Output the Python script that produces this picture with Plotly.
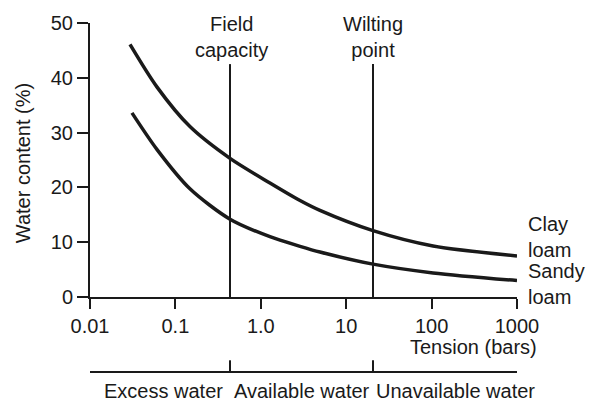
import plotly.graph_objects as go
import math

# ---- data ----
clay_tension = [0.0294, 0.061, 0.148, 0.436, 1.28, 2.88, 4.93, 20.6, 104, 1000]
clay_loam = [46.1, 38.3, 31.1, 25.3, 20.8, 17.6, 15.8, 12.1, 9.3, 7.5]
sandy_tension = [0.031, 0.061, 0.148, 0.436, 1.28, 2.88, 4.93, 20.6, 104, 1000]
sandy_loam = [33.6, 26.9, 19.75, 14.2, 11.0, 9.25, 8.2, 6.0, 4.4, 3.0]

field_capacity = 0.436
wilting_point = 20.6
marker_top = 42.5

x_tickvals = [0.01, 0.1, 1, 10, 100, 1000]
x_ticktext = ["0.01", "0.1", "1.0", "10", "100", "1000"]
y_tickvals = [0, 10, 20, 30, 40, 50]

zones = ["Excess water", "Available water", "Unavailable water"]

FONT = "Liberation Sans, Arial, sans-serif"
INK = "#1a1a1a"

fig = go.Figure()
fig.add_trace(go.Scatter(x=clay_tension, y=clay_loam, mode="lines",
                         line=dict(color=INK, width=3.5, shape="spline", smoothing=0.8),
                         showlegend=False, hoverinfo="skip"))
fig.add_trace(go.Scatter(x=sandy_tension, y=sandy_loam, mode="lines",
                         line=dict(color=INK, width=3.5, shape="spline", smoothing=0.8),
                         showlegend=False, hoverinfo="skip"))
for xv in (field_capacity, wilting_point):
    fig.add_trace(go.Scatter(x=[xv, xv], y=[0, marker_top], mode="lines",
                             line=dict(color=INK, width=2),
                             showlegend=False, hoverinfo="skip"))

# second (zone) axis below the main one
line_y = -0.274
tick_y = -0.231
shapes = [dict(type="line", xref="x", yref="paper", x0=x_tickvals[0], x1=x_tickvals[-1],
               y0=line_y, y1=line_y, line=dict(color=INK, width=2))]
for xv in (field_capacity, wilting_point):
    shapes.append(dict(type="line", xref="x", yref="paper", x0=xv, x1=xv,
                       y0=line_y, y1=tick_y, line=dict(color=INK, width=2)))

lf = math.log10(field_capacity)
lw = math.log10(wilting_point)
zone_x = [(-2 + lf) / 2 + 0.04, (lf + lw) / 2, (lw + 3) / 2 + 0.12]

annotations = []
for name, zx in zip(zones, zone_x):
    annotations.append(dict(text=name, x=zx, xref="x", y=-0.342, yref="paper",
                            showarrow=False, xanchor="center", yanchor="middle",
                            font=dict(size=20, color=INK, family=FONT)))

annotations += [
    dict(text="Field<br>capacity", x=lf + 0.02, xref="x", y=marker_top, yref="y",
         yanchor="bottom", xanchor="center", showarrow=False, yshift=1,
         font=dict(size=20, color=INK, family=FONT)),
    dict(text="Wilting<br>point", x=lw, xref="x", y=marker_top, yref="y",
         yanchor="bottom", xanchor="center", showarrow=False, yshift=1,
         font=dict(size=20, color=INK, family=FONT)),
    dict(text="Clay<br>loam", x=1, xref="paper", xshift=9, y=11.0, yref="y",
         xanchor="left", yanchor="middle", align="left", showarrow=False,
         font=dict(size=20, color=INK, family=FONT)),
    dict(text="Sandy<br>loam", x=1, xref="paper", xshift=9, y=2.3, yref="y",
         xanchor="left", yanchor="middle", align="left", showarrow=False,
         font=dict(size=20, color=INK, family=FONT)),
    dict(text="Tension (bars)", x=1, xref="paper", xshift=22, y=-0.184, yref="paper",
         xanchor="right", yanchor="middle", showarrow=False,
         font=dict(size=20, color=INK, family=FONT)),
    dict(text="Water content (%)", x=-0.155, xref="paper", y=0.4875, yref="paper",
         textangle=-90, xanchor="center", yanchor="middle", showarrow=False,
         font=dict(size=20, color=INK, family=FONT)),
]

fig.update_layout(
    width=593, height=404,
    margin=dict(l=90, r=76, t=16, b=107, pad=0),
    paper_bgcolor="white", plot_bgcolor="white",
    shapes=shapes, annotations=annotations,
    font=dict(family=FONT, color=INK, size=20),
)
fig.update_xaxes(type="log", range=[-2, 3], tickvals=x_tickvals, ticktext=x_ticktext,
                 showgrid=False, zeroline=False, showline=True, linecolor=INK, linewidth=2,
                 ticks="outside", ticklen=10, tickwidth=2, tickcolor=INK,
                 tickfont=dict(size=20, color=INK, family=FONT))
fig.update_yaxes(range=[0, 50], tickvals=y_tickvals,
                 showgrid=False, zeroline=False, showline=True, linecolor=INK, linewidth=2,
                 ticks="outside", ticklen=11, tickwidth=2, tickcolor=INK,
                 tickfont=dict(size=20, color=INK, family=FONT))

fig.write_html("out.html")
